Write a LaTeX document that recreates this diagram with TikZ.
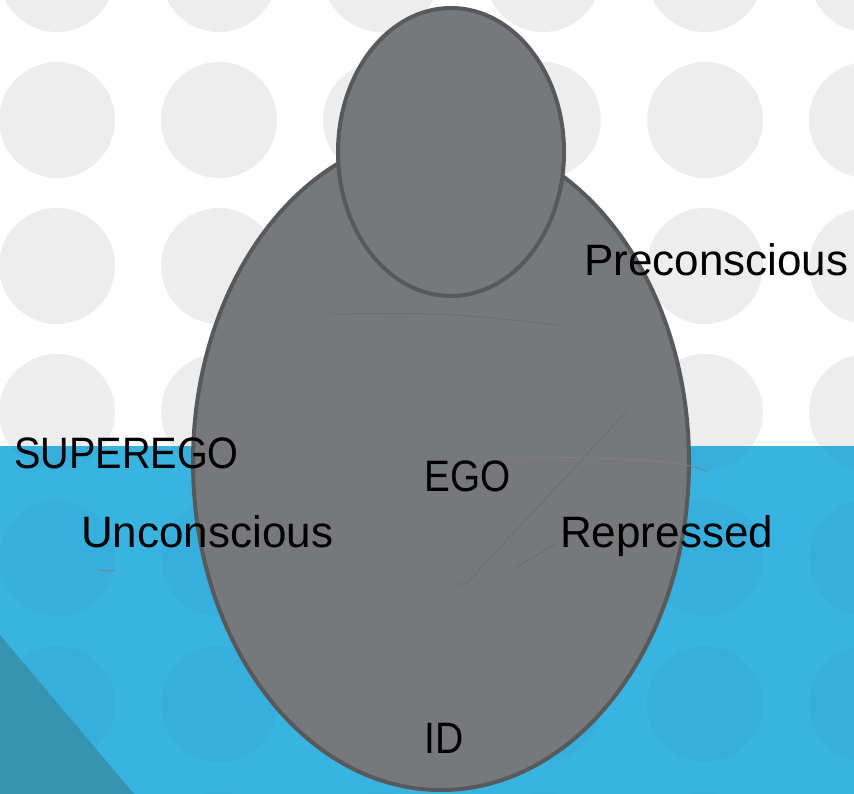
\documentclass[tikz,border=0pt]{standalone}
\usepackage{fontspec}
\setmainfont{Liberation Sans}
\definecolor{bandblue}{HTML}{39B3E0}
\definecolor{dotblue}{HTML}{36AFDC}
\definecolor{dotgrey}{HTML}{EDEDED}
\definecolor{cornerteal}{HTML}{3794B0}
\definecolor{bodyfill}{HTML}{77787B}
\definecolor{bodyline}{HTML}{58595B}
\definecolor{faint}{HTML}{6C6D70}
\begin{document}
\begin{tikzpicture}[x=1pt,y=-1pt,
  figure/.style={fill=bodyfill,draw=bodyline,line width=4pt},
  faintline/.style={draw=faint,line width=0.8pt},
  label/.style={anchor=base west,inner sep=0pt,font=\fontsize{44}{48}\selectfont}]
\useasboundingbox (0,0) rectangle (854,793);
% backgrounds, run past the page edge so no seam shows
\fill[white] (-5,-5) rectangle (860,800);
\fill[bandblue] (-5,446) rectangle (860,800);
% dotted pattern, grey on white and darker blue on the band
\begin{scope}
  \clip (-5,-5) rectangle (860,446);
  \foreach \i in {0,...,5}
    \foreach \j in {0,...,5}
      \fill[dotgrey] (57+162*\i,-26+146*\j) circle (58pt);
\end{scope}
\begin{scope}
  \clip (-5,446) rectangle (860,800);
  \foreach \i in {0,...,5}
    \foreach \j in {0,...,6}
      \fill[dotblue] (57+162*\i,-26+146*\j) circle (58pt);
\end{scope}
\fill[cornerteal] (-5,629) -- (139,800) -- (-5,800) -- cycle;
% body and head
\path[figure] (441,462) ellipse [x radius=248pt, y radius=328pt];
\path[figure] (451,152) ellipse [x radius=113pt, y radius=144pt];
% faint strokes
\coordinate (f1a) at (330,314);
\coordinate (f1b) at (558,325);
\draw[faintline] (f1a) .. controls (450,313) .. (f1b);
\coordinate (f2a) at (505,457);
\coordinate (f2b) at (708,472);
\draw[faintline,draw=gray] (f2a) .. controls (640,457) and (690,462) .. (f2b);
\coordinate (f3a) at (627,411);
\coordinate (f3b) at (466,584);
\coordinate (f3c) at (452,584);
\draw[faintline] (f3a) -- (f3b) -- (f3c);
\coordinate (f4a) at (515,568);
\coordinate (f4b) at (557,543);
\draw[faintline] (f4a) -- (f4b);
\coordinate (f5a) at (99,570);
\coordinate (f5b) at (115,570);
\draw[draw=gray,line width=1pt] (f5a) -- (f5b);
% labels
\node[label] (pre) at (584,275) {Preconscious};
\node[label] (sup) at (14,468) {\scalebox{0.9}[1]{SUPEREGO}};
\node[label] (unc) at (81,547) {Unconscious};
\node[label] (ego) at (424,491) {\scalebox{0.88}[1]{EGO}};
\node[label] (rep) at (560,547) {Repressed};
\node[label] (id) at (424,753) {\scalebox{0.89}[1]{ID}};
\end{tikzpicture}
\end{document}
